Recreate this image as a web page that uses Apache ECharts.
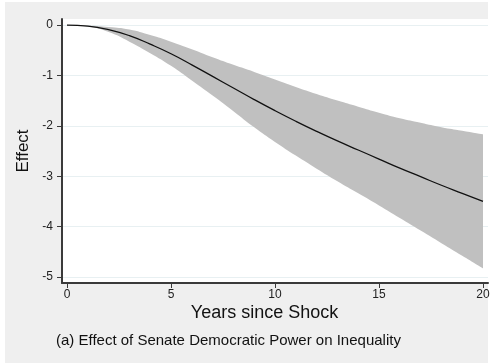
<!DOCTYPE html>
<html>
<head>
<meta charset="utf-8">
<script src="https://cdn.jsdelivr.net/npm/echarts@6/dist/echarts.min.js"></script>
<style>
  html, body { margin: 0; padding: 0; background: #fff; }
  #chart { width: 498px; height: 364px; }
</style>
</head>
<body>
<div id="chart"></div>
<script>
// years after the shock
var years = [0, 1, 2, 3, 4, 5, 6, 7, 8, 9, 10, 11, 12, 13, 14, 15, 16, 17, 18, 19, 20];
// point estimate
var effect = [0, -0.02, -0.09, -0.21, -0.38, -0.57, -0.79, -1.02, -1.25, -1.48, -1.70,
              -1.91, -2.11, -2.30, -2.48, -2.66, -2.84, -3.01, -3.18, -3.34, -3.50];
// confidence band
var upper = [0, -0.01, -0.04, -0.09, -0.20, -0.33, -0.48, -0.64, -0.79, -0.93, -1.08,
             -1.23, -1.37, -1.50, -1.62, -1.74, -1.85, -1.94, -2.03, -2.10, -2.17];
var lower = [0, -0.03, -0.14, -0.33, -0.56, -0.81, -1.10, -1.40, -1.71, -2.03, -2.32,
             -2.59, -2.85, -3.10, -3.34, -3.58, -3.83, -4.08, -4.33, -4.58, -4.83];
var xTicks = [0, 5, 10, 15, 20];
var yTicks = [-5, -4, -3, -2, -1, 0];

var myChart = echarts.init(document.getElementById('chart'), null, {renderer: 'canvas'});

// value first, year second: the stack then runs on the y values
var lineData = [], lowData = [], spanData = [];
for (var i = 0; i < years.length; i++) {
    lineData.push([effect[i], years[i]]);
    lowData.push([lower[i], years[i]]);
    spanData.push([+(upper[i] - lower[i]).toFixed(3), years[i]]);
}

var font = 'Arial, "Liberation Sans", Helvetica, sans-serif';

var option = {
    backgroundColor: '#ffffff',
    animation: false,
    graphic: [
        {
            type: 'rect', z: -10, silent: true,
            shape: {x: 5, y: 2, width: 483, height: 361},
            style: {fill: '#efefef'}
        },
        {
            type: 'text', x: 264.5, y: 313,
            style: {
                text: 'Years since Shock', align: 'center', verticalAlign: 'middle',
                font: '18px ' + font, fill: '#111'
            }
        },
        {
            type: 'text', x: 56, y: 341,
            style: {
                text: '(a) Effect of Senate Democratic Power on Inequality',
                align: 'left', verticalAlign: 'middle',
                font: '15px ' + font, fill: '#111'
            }
        }
    ],
    grid: {
        left: 62, right: 10, top: 19, bottom: 81,
        show: true, backgroundColor: '#ffffff', borderWidth: 0
    },
    xAxis: {
        type: 'value',
        min: -0.24, max: 20.24,
        axisLine: {show: true, onZero: false, lineStyle: {color: '#3a3a3a', width: 2}},
        axisTick: {show: true, length: 5, customValues: xTicks, lineStyle: {color: '#3a3a3a', width: 1}},
        axisLabel: {customValues: xTicks, margin: 6, fontSize: 12, color: '#222', fontFamily: font},
        splitLine: {show: false}
    },
    yAxis: {
        type: 'value',
        min: -5.12, max: 0.12,
        name: 'Effect',
        nameLocation: 'middle',
        nameGap: 30,
        nameTextStyle: {fontSize: 17, color: '#111', fontFamily: font},
        axisLine: {show: true, onZero: false, lineStyle: {color: '#3a3a3a', width: 2}},
        axisTick: {show: true, length: 5, customValues: yTicks, lineStyle: {color: '#3a3a3a', width: 1}},
        axisLabel: {customValues: yTicks, margin: 9, fontSize: 12, color: '#222', fontFamily: font},
        splitLine: {show: true, lineStyle: {color: '#e8f0f2', width: 1}}
    },
    series: [
        {
            name: 'lower', type: 'line', data: lowData,
            encode: {x: 1, y: 0},
            stack: 'ci', stackStrategy: 'all',
            smooth: true, symbol: 'none',
            lineStyle: {opacity: 0}, z: 2
        },
        {
            name: 'band', type: 'line', data: spanData,
            encode: {x: 1, y: 0},
            stack: 'ci', stackStrategy: 'all',
            smooth: true, symbol: 'none',
            lineStyle: {opacity: 0},
            areaStyle: {color: '#c0c0c0', opacity: 1}, z: 2
        },
        {
            name: 'effect', type: 'line', data: lineData,
            encode: {x: 1, y: 0},
            smooth: true, symbol: 'none',
            lineStyle: {color: '#111', width: 1.3}, z: 3
        }
    ]
};
myChart.setOption(option);
</script>
</body>
</html>
